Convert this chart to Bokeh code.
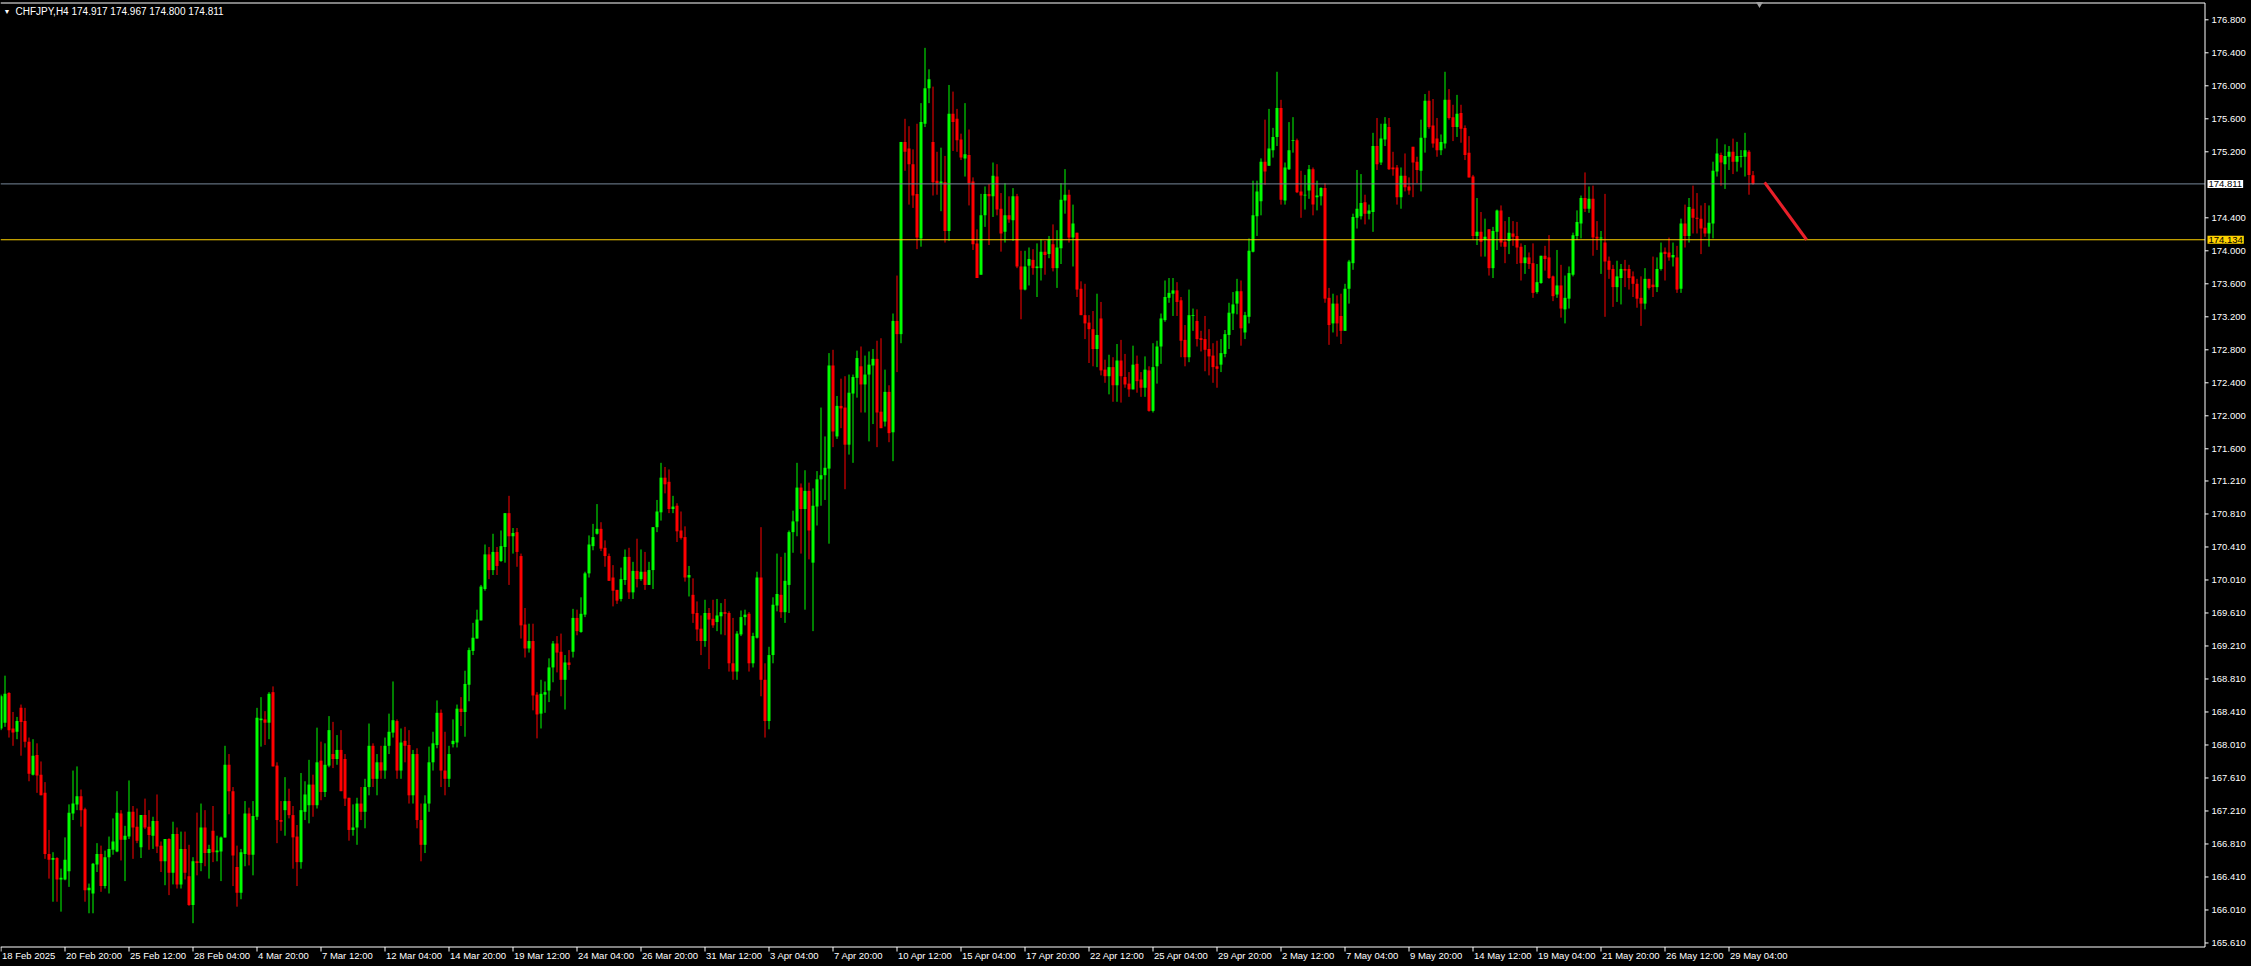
from bokeh.plotting import figure
from bokeh.models import (ColumnDataSource, Range1d, Label, LabelSet, GlobalInlineStyleSheet)
from bokeh.core.properties import value
from bokeh.embed import file_html
from bokeh.resources import INLINE

symbol = "CHFJPY,H4"

opens = [
    168.21,168.28,168.64,168.21,168.17,168.46,168.30,168.05,167.65,167.89,
    167.65,167.43,166.69,166.62,166.64,166.38,166.38,166.48,167.18,167.29,
    167.39,167.23,166.25,166.21,166.56,166.69,166.30,166.65,166.74,166.72,
    167.18,166.86,166.90,167.20,167.02,166.77,167.16,167.02,166.91,167.09,
    166.79,166.60,166.87,166.46,166.93,166.32,166.75,166.42,166.07,166.60,
    166.58,167.01,166.70,166.97,166.71,166.72,166.89,167.77,167.45,166.53,
    166.22,166.69,167.18,166.68,167.14,168.31,168.32,168.28,168.65,167.76,
    167.10,167.22,167.33,167.16,166.90,166.59,167.20,167.28,167.53,167.28,
    167.82,167.44,167.76,167.90,167.84,167.95,167.84,167.37,166.98,167.01,
    167.30,167.20,167.50,168.00,167.60,167.80,167.70,168.00,168.16,168.30,
    167.70,168.06,168.01,167.40,167.90,167.10,166.80,167.30,167.80,168.01,
    168.40,167.70,167.60,168.02,168.04,168.45,168.41,168.74,169.15,169.30,
    169.52,169.90,170.32,170.13,170.35,170.24,170.41,170.82,170.54,170.59,
    170.30,169.47,169.18,169.27,168.62,168.39,168.62,168.67,168.95,169.24,
    169.14,168.80,169.01,169.14,169.55,169.38,169.59,170.09,170.42,170.57,
    170.63,170.40,170.30,170.04,169.89,169.78,170.01,170.29,169.86,170.12,
    170.02,170.11,169.95,170.13,170.65,170.83,171.25,171.20,170.87,170.91,
    170.61,170.53,170.04,169.83,169.61,169.42,169.27,169.61,169.54,169.50,
    169.57,169.62,169.61,169.00,168.90,169.35,169.56,169.60,169.00,169.31,
    170.04,168.80,168.30,169.10,169.70,169.83,169.62,169.95,170.59,170.72,
    171.13,170.87,171.09,170.22,170.90,171.23,171.28,171.36,172.61,171.75,
    172.12,172.10,171.65,172.27,172.46,172.60,172.38,172.50,172.61,172.69,
    172.05,171.93,172.29,171.80,173.15,172.99,175.32,175.24,175.05,174.69,
    174.15,175.54,175.97,175.32,174.85,174.82,174.83,174.24,175.66,175.60,
    175.35,175.12,175.16,174.84,174.09,173.71,174.43,174.69,174.66,174.90,
    174.51,174.23,174.43,174.37,174.66,173.81,173.53,173.82,173.89,173.79,
    173.79,173.99,173.96,174.08,173.79,174.03,174.61,174.68,174.16,174.22,
    173.54,173.22,173.13,173.05,172.81,173.18,172.56,172.48,172.59,172.37,
    172.67,172.47,172.39,172.32,172.63,172.44,172.34,172.55,172.06,172.60,
    172.84,173.16,173.43,173.48,173.52,173.40,172.92,172.71,173.21,173.15,
    172.94,172.93,172.81,172.73,172.60,172.62,172.75,172.98,173.24,173.36,
    173.51,173.01,173.20,173.99,174.42,174.60,175.08,175.03,175.22,175.38,
    175.73,174.61,174.99,175.33,175.34,174.72,174.67,174.73,174.99,174.65,
    174.66,174.76,173.43,173.12,173.36,173.21,173.03,173.54,173.85,174.40,
    174.42,174.59,174.45,174.47,175.27,175.07,175.35,175.50,175.01,175.01,
    174.65,174.91,174.78,175.26,175.08,174.97,175.37,175.82,175.52,175.36,
    175.22,175.30,175.83,175.62,175.50,175.67,175.49,175.19,174.90,174.18,
    174.23,174.13,174.26,173.79,174.23,174.49,174.11,174.12,174.21,174.18,
    174.05,173.85,173.92,173.85,173.50,173.61,173.94,173.92,173.69,173.47,
    173.58,173.29,173.42,173.71,174.18,174.33,174.64,174.51,174.63,174.17,
    174.15,174.10,173.88,173.78,173.56,173.67,173.78,173.78,173.69,173.60,
    173.43,173.36,173.66,173.59,173.56,173.78,173.99,173.98,173.92,173.92,
    173.54,174.33,174.18,174.51,174.40,174.39,174.28,174.21,174.33,174.96,
    175.16,175.05,175.14,175.20,175.08,175.14,175.14,175.20,174.917,
]

highs = [
    168.62,168.85,168.65,168.41,168.35,168.50,168.46,168.10,168.08,168.03,
    167.81,167.56,166.98,166.71,166.65,166.51,166.89,167.29,167.70,167.75,
    167.47,167.25,166.33,166.58,166.82,166.79,166.73,166.90,167.12,167.45,
    167.22,167.03,167.58,167.27,167.24,167.16,167.36,167.22,167.14,167.41,
    166.84,166.87,166.88,167.08,167.01,166.96,166.96,166.80,166.65,167.19,
    167.30,167.22,166.80,167.27,166.91,166.90,168.00,167.90,167.50,166.79,
    166.75,167.33,167.25,167.33,168.46,168.59,168.42,168.65,168.72,167.80,
    167.33,167.62,167.48,167.27,167.04,167.67,167.57,167.83,167.65,168.22,
    168.05,168.03,168.36,168.29,168.13,168.19,167.90,167.37,167.29,167.37,
    167.50,167.60,168.27,168.03,167.90,168.00,168.10,168.39,168.78,168.32,
    168.21,168.23,168.19,167.95,167.97,167.30,167.40,167.99,168.17,168.55,
    168.44,168.17,168.00,168.32,168.50,168.59,168.91,169.19,169.49,169.65,
    169.95,170.44,170.41,170.57,170.41,170.61,170.82,171.03,170.64,170.64,
    170.33,169.67,169.48,169.48,168.65,168.80,168.78,169.06,169.27,169.33,
    169.36,169.10,169.16,169.66,169.65,169.80,170.11,170.55,170.69,170.93,
    170.71,170.49,170.33,170.19,169.89,170.16,170.38,170.40,170.23,170.51,
    170.38,170.35,170.23,170.65,170.98,171.43,171.38,171.35,171.03,170.94,
    170.84,170.66,170.18,170.03,169.75,169.58,169.77,169.67,169.77,169.78,
    169.73,169.78,169.63,169.55,169.39,169.64,169.65,169.62,169.37,170.11,
    170.65,169.00,169.20,169.80,170.33,170.29,170.34,170.61,170.85,171.43,
    171.18,171.34,171.19,171.12,171.33,172.10,171.75,172.76,172.80,172.24,
    172.45,172.48,172.50,172.50,172.79,172.84,172.73,172.78,172.81,172.91,
    172.94,172.56,172.37,173.24,173.70,175.32,175.60,175.51,175.23,175.54,
    175.79,176.46,176.20,175.99,175.20,175.25,175.15,176.01,175.93,175.72,
    175.42,175.79,175.47,174.89,174.26,174.69,174.78,174.81,175.07,175.05,
    174.70,174.82,174.66,174.76,174.69,174.00,174.00,174.04,174.02,174.09,
    174.14,174.12,174.18,174.32,174.25,174.82,174.99,174.74,174.56,174.22,
    173.63,173.60,173.22,173.27,173.48,173.38,172.68,172.74,172.71,172.87,
    172.92,172.75,172.53,172.85,172.73,172.53,172.72,172.60,172.88,172.91,
    173.24,173.64,173.67,173.67,173.62,173.44,173.10,173.53,173.30,173.29,
    173.03,173.21,173.05,172.88,172.91,172.93,173.04,173.37,173.50,173.66,
    173.64,173.26,174.15,174.85,174.85,175.12,175.59,175.72,175.49,176.17,
    175.83,175.07,175.56,175.62,175.36,174.97,174.92,175.04,175.01,174.85,
    174.77,174.82,173.55,173.48,173.46,173.48,173.60,173.89,174.45,174.98,
    174.93,174.68,174.56,175.43,175.61,175.54,175.62,175.61,175.20,175.04,
    175.01,175.18,174.89,175.26,175.14,175.59,175.90,175.94,175.84,175.61,
    175.41,176.17,175.96,175.77,175.89,175.77,175.52,175.39,174.92,174.64,
    174.47,174.39,174.26,174.29,174.50,174.55,174.36,174.41,174.36,174.35,
    174.09,174.07,173.98,174.09,173.84,173.94,174.06,174.19,173.70,174.01,
    173.83,173.70,173.81,174.22,174.49,174.67,174.95,174.78,174.79,174.36,
    174.24,174.69,173.93,173.83,173.88,173.84,173.89,173.83,173.75,173.66,
    173.69,173.79,173.66,173.93,173.92,174.10,174.04,174.16,174.10,174.06,
    174.39,174.56,174.64,174.79,174.70,174.55,174.58,174.55,175.08,175.36,
    175.19,175.29,175.27,175.36,175.32,175.22,175.43,175.22,174.967,
]

lows = [
    168.19,168.23,168.10,168.00,168.08,167.88,167.98,167.57,167.64,167.43,
    167.40,166.63,166.39,166.11,166.11,165.99,166.37,166.29,167.10,167.22,
    167.02,166.11,165.97,165.97,166.47,166.23,166.27,166.21,166.68,166.71,
    166.61,166.36,166.87,166.63,166.82,166.64,166.99,166.74,166.75,166.70,
    166.47,166.31,166.19,166.32,166.27,166.27,166.38,166.06,165.85,166.43,
    166.48,166.54,166.39,166.59,166.60,166.36,166.89,167.17,166.30,166.05,
    166.14,166.54,166.55,166.43,167.10,167.99,168.01,168.08,167.75,166.82,
    166.97,166.91,167.12,166.51,166.30,166.51,167.10,167.06,167.14,167.24,
    167.34,167.38,167.74,167.73,167.77,167.45,167.27,166.85,166.91,166.80,
    167.10,167.00,167.40,167.50,167.40,167.60,167.60,167.90,168.10,167.60,
    167.60,167.80,167.30,167.30,167.00,166.60,166.70,167.20,167.70,167.97,
    167.50,167.40,167.50,167.98,167.98,168.24,168.11,168.54,169.10,169.30,
    169.52,169.88,170.02,170.07,170.07,170.23,170.22,169.95,170.33,170.17,
    169.30,169.07,169.13,168.43,168.09,168.21,168.40,168.53,168.77,168.89,
    168.60,168.44,168.92,169.07,169.34,169.37,169.56,170.04,170.37,170.56,
    170.36,170.17,170.00,169.69,169.72,169.75,169.95,169.78,169.78,169.92,
    170.00,169.89,169.95,169.90,170.59,170.73,171.06,170.82,170.82,170.47,
    170.50,169.99,169.81,169.49,169.27,169.10,169.20,168.93,169.43,169.39,
    169.35,169.34,168.90,168.80,168.80,169.33,169.46,168.90,168.95,169.30,
    168.60,168.10,168.20,169.00,169.63,169.55,169.49,169.61,170.34,170.54,
    170.33,169.65,170.26,169.39,170.67,170.91,170.98,170.45,171.62,171.72,
    171.85,171.11,171.53,171.43,172.22,172.04,172.04,171.69,171.90,171.62,
    171.85,171.87,171.68,171.45,172.53,172.88,174.97,174.56,174.52,174.02,
    174.05,175.50,175.79,174.67,174.68,174.48,174.10,174.12,175.21,175.20,
    175.10,174.90,174.55,174.01,173.67,173.71,174.29,174.07,174.41,174.43,
    173.99,174.10,174.34,174.12,173.79,173.17,173.52,173.58,173.71,173.44,
    173.64,173.71,173.91,173.75,173.55,173.84,174.45,174.10,173.81,173.44,
    173.22,172.93,172.64,172.60,172.59,172.49,172.40,172.26,172.17,172.17,
    172.16,172.34,172.23,172.32,172.28,172.23,172.23,172.05,172.04,172.39,
    172.63,173.14,173.37,173.21,173.21,172.71,172.60,172.65,173.03,172.84,
    172.78,172.54,172.49,172.40,172.34,172.53,172.71,172.81,173.04,173.23,
    172.85,172.93,173.12,173.98,174.18,174.43,174.80,175.03,175.13,175.27,
    174.56,174.56,174.98,175.19,174.70,174.40,174.50,174.63,174.43,174.49,
    174.55,173.37,172.86,173.01,172.96,172.87,173.03,173.36,173.77,174.27,
    174.38,174.32,174.38,174.23,174.98,175.04,175.27,174.98,174.91,174.56,
    174.51,174.72,174.68,174.65,174.82,174.72,175.19,175.48,175.25,175.14,
    175.16,175.24,175.59,175.33,175.38,175.31,175.10,174.89,174.13,174.07,
    173.93,173.93,173.70,173.67,174.01,174.05,173.85,173.96,174.06,173.84,
    173.64,173.72,173.78,173.43,173.48,173.60,173.76,173.66,173.39,173.43,
    173.19,173.12,173.30,173.69,174.13,174.15,174.47,174.46,173.94,174.01,
    173.72,173.20,173.66,173.32,173.38,173.35,173.56,173.53,173.44,173.31,
    173.09,173.29,173.53,173.44,173.50,173.76,173.64,173.88,173.81,173.49,
    173.49,174.04,174.10,174.21,174.21,173.96,174.17,174.05,174.15,174.90,
    174.79,174.75,174.98,174.93,174.96,175.01,174.90,174.68,174.800,
]

closes = [
    168.60,168.63,168.19,168.16,168.30,168.29,168.05,167.66,167.88,167.64,
    167.40,166.69,166.62,166.64,166.38,166.40,166.62,167.19,167.30,167.39,
    167.22,166.25,166.28,166.57,166.69,166.30,166.65,166.75,166.84,167.19,
    166.86,166.91,167.20,167.01,166.85,167.16,167.01,166.92,167.09,166.78,
    166.60,166.87,166.46,166.93,166.32,166.75,166.46,166.07,166.60,166.58,
    167.01,166.70,166.75,166.71,166.73,166.89,167.77,167.45,166.67,166.22,
    166.71,167.18,166.68,167.15,168.34,168.33,168.28,168.63,167.75,167.10,
    167.08,167.33,167.16,166.89,166.59,167.22,167.41,167.53,167.28,167.80,
    167.44,167.77,168.19,167.84,167.95,167.45,167.36,166.98,167.01,167.30,
    167.20,167.50,168.00,167.60,167.80,167.70,168.00,168.17,168.31,167.70,
    168.04,168.00,167.40,167.90,167.10,166.80,167.30,167.80,168.03,168.40,
    167.70,167.60,167.90,168.06,168.45,168.41,168.75,169.16,169.31,169.53,
    169.93,170.32,170.13,170.35,170.18,170.42,170.82,170.54,170.58,170.35,
    169.46,169.18,169.27,168.61,168.38,168.63,168.65,168.95,169.24,169.13,
    168.80,169.01,168.98,169.55,169.39,169.60,170.09,170.44,170.53,170.63,
    170.39,170.30,170.00,169.88,169.76,170.02,170.29,169.86,170.12,170.02,
    170.11,169.95,170.13,170.65,170.84,171.25,171.17,170.87,170.90,170.60,
    170.52,170.04,170.07,169.60,169.41,169.27,169.61,169.53,169.46,169.58,
    169.62,169.60,169.00,168.90,169.36,169.56,169.59,169.00,169.33,170.04,
    168.80,168.30,169.10,169.71,169.84,169.62,170.00,170.59,170.72,171.13,
    170.87,171.09,170.61,170.91,171.23,171.28,171.37,172.61,171.81,172.12,
    172.09,171.65,172.28,172.47,172.70,172.38,172.50,172.62,172.69,172.04,
    171.85,172.29,171.79,173.15,172.99,175.32,175.20,175.05,174.67,174.16,
    175.56,175.97,176.08,174.83,174.82,174.84,174.24,175.66,175.56,175.34,
    175.13,175.17,174.82,174.08,173.67,174.43,174.69,174.66,174.91,174.50,
    174.21,174.43,174.38,174.66,173.81,173.53,173.81,173.90,173.79,173.81,
    173.99,173.95,174.14,173.79,174.04,174.62,174.68,174.16,174.33,173.53,
    173.22,173.12,173.05,172.81,172.98,172.55,172.48,172.59,172.37,172.67,
    172.48,172.38,172.32,172.62,172.42,172.34,172.56,172.06,172.59,172.84,
    173.18,173.44,173.49,173.52,173.38,172.91,172.71,173.22,173.22,172.93,
    172.92,172.80,172.72,172.59,172.57,172.76,172.99,173.25,173.35,173.51,
    173.06,173.22,174.00,174.43,174.72,175.08,174.96,175.24,175.38,175.73,
    174.62,175.01,175.22,175.34,174.71,174.67,174.68,174.99,174.56,174.67,
    174.76,173.42,173.10,173.36,173.12,173.03,173.54,173.87,174.41,174.51,
    174.58,174.45,174.49,175.27,175.05,175.36,175.54,174.99,174.99,174.65,
    174.91,174.77,174.73,175.07,174.98,175.37,175.82,175.50,175.30,175.22,
    175.32,175.83,175.61,175.50,175.66,175.48,175.16,174.89,174.18,174.23,
    174.11,174.17,173.79,174.24,174.49,174.10,174.05,174.22,174.17,174.04,
    173.85,173.92,173.84,173.49,173.62,173.94,173.90,173.67,173.45,173.58,
    173.30,173.43,173.73,174.19,174.35,174.64,174.51,174.63,174.16,174.15,
    174.16,173.87,173.77,173.56,173.69,173.78,173.76,173.67,173.60,173.42,
    173.36,173.66,173.55,173.56,173.78,173.98,173.96,173.92,173.95,173.53,
    174.33,174.18,174.53,174.40,174.39,174.27,174.21,174.34,174.97,175.18,
    175.07,175.15,175.20,175.08,175.15,175.15,175.22,174.92,174.811,
]

date_labels = [
    "18 Feb 2025", "20 Feb 20:00", "25 Feb 12:00", "28 Feb 04:00", "4 Mar 20:00",
    "7 Mar 12:00", "12 Mar 04:00", "14 Mar 20:00", "19 Mar 12:00", "24 Mar 04:00",
    "26 Mar 20:00", "31 Mar 12:00", "3 Apr 04:00", "7 Apr 20:00", "10 Apr 12:00",
    "15 Apr 04:00", "17 Apr 20:00", "22 Apr 12:00", "25 Apr 04:00", "29 Apr 20:00",
    "2 May 12:00", "7 May 04:00", "9 May 20:00", "14 May 12:00", "19 May 04:00",
    "21 May 20:00", "26 May 12:00", "29 May 04:00",
]
bars_per_label = 16

price_ticks = [
    176.800, 176.400, 176.000, 175.600, 175.200, 174.400, 174.000, 173.600,
    173.200, 172.800, 172.400, 172.000, 171.600, 171.210, 170.810, 170.410,
    170.010, 169.610, 169.210, 168.810, 168.410, 168.010, 167.610, 167.210,
    166.810, 166.410, 166.010, 165.610,
]

bid_price = 174.811
level_price = 174.134
trend_bars = [440.9, 451.4]
trend_prices = [174.83, 174.134]

# ---------------- layout (pixels -> data helpers) ----------------
FIG_W, FIG_H = 2251, 966
PX_PER_BAR = 4.0
PX_PER_PRICE = 82.5
x_lo = -0.125                      # bar coordinate at the left edge of the canvas
x_hi = x_lo + FIG_W / PX_PER_BAR
y_hi = 177.034                     # price at the top edge of the canvas
y_lo = y_hi - FIG_H / PX_PER_PRICE


def bx(px):   # horizontal canvas pixel -> bar coordinate
    return x_lo + px / PX_PER_BAR


def py(px):   # vertical canvas pixel (from top) -> price coordinate
    return y_hi - px / PX_PER_PRICE


scale_x = bx(2204.5)        # vertical price-scale line
bottom_y = py(946.5)        # time-scale line
top_y = py(2.5)

UP, DOWN = "#00FF00", "#FF0000"
FONT = "Liberation Sans"
FS = "9.5px"

n = len(closes)
idx = list(range(n))
colors = [UP if c >= o else DOWN for o, c in zip(opens, closes)]
src = ColumnDataSource(dict(
    x=idx, high=highs, low=lows,
    top=[max(o, c) for o, c in zip(opens, closes)],
    bottom=[min(o, c) for o, c in zip(opens, closes)],
    color=colors,
))

p = figure(width=FIG_W, height=FIG_H, output_backend="svg", toolbar_location=None,
           x_range=Range1d(x_lo, x_hi), y_range=Range1d(y_lo, y_hi),
           x_axis_location=None, y_axis_location=None,
           background_fill_color="black", border_fill_color="black",
           min_border=0)
p.outline_line_color = None
p.xgrid.visible = False
p.ygrid.visible = False
p.stylesheets = [GlobalInlineStyleSheet(css="html, body { background-color: #000000; }")]

# candles: wicks and bodies
p.segment(x0="x", y0="low", x1="x", y1="high", line_color="color", line_width=1, source=src)
p.vbar(x="x", width=0.75, top="top", bottom="bottom", fill_color="color",
       line_color=None, source=src)

# horizontal price lines (stop at the price scale)
p.segment(x0=[x_lo], y0=[bid_price], x1=[scale_x], y1=[bid_price],
          line_color="#778899", line_width=1)
p.segment(x0=[x_lo], y0=[level_price], x1=[scale_x], y1=[level_price],
          line_color="#FFD200", line_width=1)

# red trend line
p.line(trend_bars, trend_prices, line_color="#E8202A", line_width=3)

# frame: top line, price-scale line, time-scale line
p.segment(x0=[x_lo, scale_x, x_lo], y0=[top_y, bottom_y, bottom_y],
          x1=[scale_x, scale_x, scale_x], y1=[top_y, top_y, bottom_y],
          line_color="white", line_width=1)

# chart-shift marker at the top
p.scatter(x=[bx(1759)], y=[py(3.5)], marker="inverted_triangle", size=7,
          fill_color="#A0A0A0", line_color=None)

# price scale ticks and labels
tick_x1 = bx(2208)
p.segment(x0=[scale_x] * len(price_ticks), y0=price_ticks,
          x1=[tick_x1] * len(price_ticks), y1=price_ticks,
          line_color="white", line_width=1)
ptick_src = ColumnDataSource(dict(y=price_ticks, text=[f"{v:.3f}" for v in price_ticks]))
p.add_layout(LabelSet(x=bx(2211), y="y", text="text", source=ptick_src,
                      text_align="left", text_baseline="middle", text_color="white",
                      text_font=value(FONT), text_font_size=FS))

# time scale ticks and labels
label_bars = [bars_per_label * k for k in range(len(date_labels))]
p.segment(x0=label_bars, y0=[bottom_y] * len(label_bars),
          x1=label_bars, y1=[py(951)] * len(label_bars),
          line_color="white", line_width=1)
date_src = ColumnDataSource(dict(x=label_bars, text=date_labels))
p.add_layout(LabelSet(x="x", y=py(955), text="text", source=date_src,
                      x_offset=1, text_align="left", text_baseline="middle",
                      text_color="white", text_font=value(FONT), text_font_size=FS))

# price boxes on the scale
box_x = bx(2207)
p.add_layout(Label(x=box_x, y=bid_price, text=f"{bid_price:.3f}", text_align="left",
                   text_baseline="middle", text_color="black", text_font=FONT,
                   text_font_size=FS, background_fill_color="white", padding=1))
p.add_layout(Label(x=box_x, y=level_price, text=f"{level_price:.3f}", text_align="left",
                   text_baseline="middle", text_color="black", text_font=FONT,
                   text_font_size=FS, background_fill_color="#FFD200", padding=1))

# header
title_y = py(11)
p.add_layout(Label(x=bx(3), y=title_y, text="\u25BC", text_align="left",
                   text_baseline="middle", text_color="white", text_font=FONT,
                   text_font_size="7px"))
header = f"{symbol}  {opens[-1]:.3f} {highs[-1]:.3f} {lows[-1]:.3f} {closes[-1]:.3f}"
p.add_layout(Label(x=bx(15), y=title_y, text=header, text_align="left",
                   text_baseline="middle", text_color="white", text_font=FONT,
                   text_font_size="10px"))

open("out.html", "w").write(file_html(p, INLINE))
